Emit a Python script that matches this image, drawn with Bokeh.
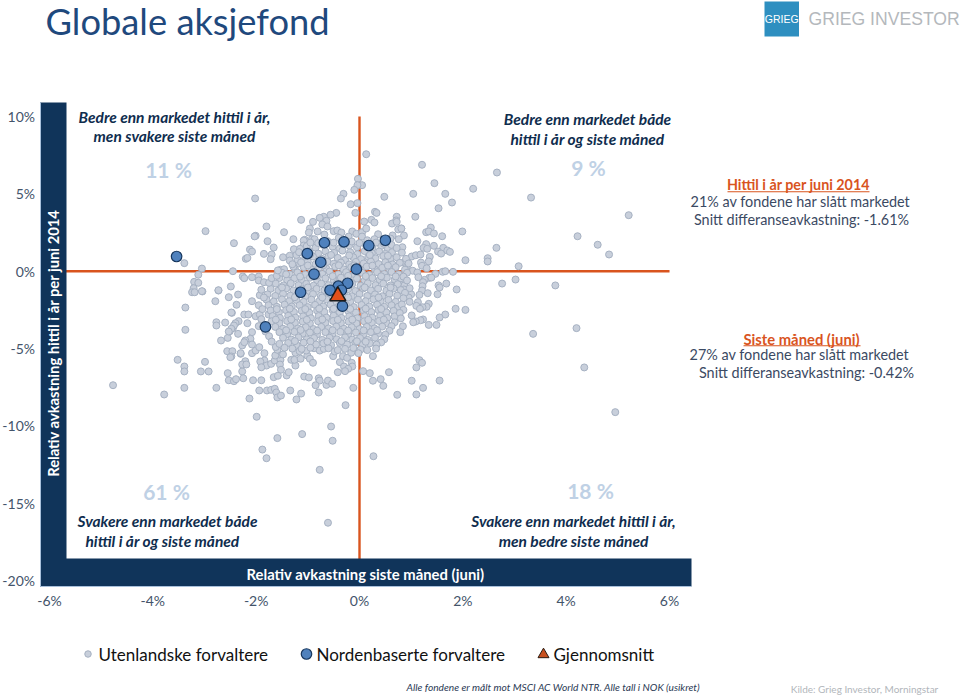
from bokeh.embed import file_html
from bokeh.models import FixedTicker, Label, LinearAxis
from bokeh.plotting import figure
from bokeh.resources import INLINE

x_ticks = [-6, -4, -2, 0, 2, 4, 6]
x_tick_labels = ["-6%", "-4%", "-2%", "0%", "2%", "4%", "6%"]
y_ticks = [-20, -15, -10, -5, 0, 5, 10]
y_tick_labels = ["-20%", "-15%", "-10%", "-5%", "0%", "5%", "10%"]

# (month %, ytd %) foreign managers, sparse outer points
foreign_outer = [
(1.21,6.88),(2.66,6.38),(1.45,5.69),(2.20,5.33),(1.04,5.00),(1.66,5.00),(3.32,4.76),(1.79,4.44),(1.53,4.07),(5.21,3.62),
(1.08,3.52),(1.38,2.82),(0.81,2.76),(1.29,2.52),(1.34,2.57),(1.44,2.44),(1.99,2.57),(0.86,2.31),(1.60,2.26),(4.22,2.26),
(1.12,1.94),(4.61,1.71),(1.29,1.75),(1.44,1.64),(1.24,1.51),(1.31,1.45),(0.83,1.55),(1.62,1.51),(2.65,1.51),(1.52,1.27),
(1.58,1.14),(1.70,1.34),(1.75,1.25),(4.83,1.08),(1.01,0.95),(1.09,1.03),(1.18,1.08),(1.36,0.93),(1.34,0.63),(2.05,0.71),
(2.48,0.84),(2.48,0.63),(1.19,0.56),(0.85,0.56),(1.21,0.35),(0.92,0.32),(1.30,0.19),(3.08,0.32),(1.03,0.03),(1.12,-0.08),
(1.61,-0.04),(1.66,0.0),(1.81,-0.04),(1.47,-0.17),(1.14,-0.39),(1.35,-0.43),(1.39,-0.41),(1.26,-0.56),(3.02,-0.54),(1.23,-0.71),
(0.86,-0.71),(2.76,-0.80),(3.79,-0.92),(1.68,-0.80),(1.53,-0.92),(1.55,-1.05),(1.22,-0.97),(0.87,-0.92),(0.86,-1.18),(1.88,-1.18),
(1.21,-1.25),(1.32,-1.42),(1.51,-1.49),(1.16,-1.53),(1.00,-1.49),(0.89,-1.57),(0.95,-1.70),(0.97,-1.98),(1.13,-2.00),(1.34,-2.11),
(1.10,-2.24),(1.30,-2.30),(1.22,-2.33),(1.17,-2.43),(1.86,-2.43),(2.05,-2.50),(1.66,-2.80),(1.01,-2.86),(1.55,-2.99),(1.23,-3.12),
(1.18,-3.17),(1.09,-3.25),(1.04,-3.30),(0.84,-3.56),(1.34,-3.47),(1.49,-3.47),(4.20,-3.68),(3.36,-4.05),(0.79,-3.94),(1.16,-5.75),
(1.21,-5.92),(1.10,-6.22),(4.35,-6.22),(1.01,-7.08),(1.55,-7.07),(1.23,-7.54),(1.10,-7.97),(4.95,-9.11),
(0.13,7.56),(-0.03,5.97),(0.05,5.56),(-0.04,5.56),(-0.10,5.26),(-0.31,5.00),(-0.36,4.70),(0.48,4.81),(-0.17,4.33),(-0.04,4.40),
(-0.08,3.77),(-0.45,3.77),(-0.56,3.65),(-0.69,3.52),(-0.77,3.45),(-0.64,3.26),(-0.90,3.19),(-1.13,3.32),(-0.72,3.02),(-0.62,2.89),
(-0.96,2.76),(-0.98,2.50),(-0.81,2.57),(-0.50,2.59),(-0.43,2.63),(-0.35,2.50),(-0.68,2.37),(-0.14,2.57),(-0.06,2.42),(0.05,2.52),
(0.13,2.76),(0.09,3.21),(0.23,3.32),(0.29,3.15),(0.30,3.84),(0.33,3.77),(0.72,3.52),(0.71,3.28),(0.63,3.08),(0.72,3.19),
(0.75,2.70),(0.81,2.76),(0.36,2.39),(0.64,2.31),(0.05,2.24),(-0.21,2.24),(-0.40,2.16),(-0.92,2.07),(-0.87,2.07),(-1.06,2.03),
(0.76,2.07),(0.60,2.11),(0.29,2.07),
(-2.02,4.70),(-2.98,2.59),(-1.80,2.89),(-1.46,2.52),(-2.43,1.81),(-2.01,2.29),(-2.03,2.25),(-1.78,1.94),(-1.28,2.07),(-1.66,1.53),
(-2.12,1.40),(-2.08,1.27),(-2.20,0.80),(-2.17,0.86),(-1.85,1.12),(-1.70,1.08),(-1.72,0.78),(-1.48,0.90),(-1.35,1.00),(-1.35,0.69),
(-1.27,1.42),(-1.08,1.98),(-1.08,1.66),(-3.05,0.17),(-2.45,0.0),(-1.53,0.09),(-1.46,0.13),(-1.14,0.52),(-2.26,-0.34),(-2.23,-0.45),
(-2.08,-0.39),(-1.95,-0.34),(-1.95,-0.60),(-1.85,-0.71),(-2.49,-0.99),(-2.73,-1.25),(-3.04,-1.31),(-2.35,-1.51),(-2.53,-1.68),(-1.93,-1.55),
(-2.79,-1.94),(-2.38,-2.17),(-2.08,-1.94),(-2.47,-2.69),(-2.23,-2.80),(-2.15,-2.80),(-2.01,-2.91),(-1.93,-2.80),(-1.76,-2.80),(-2.77,-3.30),
(-2.77,-3.51),(-2.60,-3.32),(-2.17,-3.36),(-2.34,-3.23),(-2.40,-3.36),(-2.45,-3.68),(-2.51,-3.88),(-2.35,-4.05),(-2.55,-4.31),(-2.68,-4.48),
(-2.08,-3.94),(-2.11,-4.37),(-2.21,-4.48),(-2.27,-4.80),(-2.23,-4.59),(-2.30,-5.34),(-2.56,-5.17),(-2.46,-5.17),(-2.48,-5.51),
(-3.39,0.52),(-3.12,-0.23),(-3.20,-0.69),(-3.12,-0.75),(-3.21,-1.10),(-3.24,-1.36),(-3.19,-1.36),(-3.05,-1.29),(-2.73,-1.23),(-3.37,-2.35),
(-4.77,-7.37),(-3.78,-7.97),(-3.39,-7.54),(-2.77,-7.54),(-3.52,-5.73),(-3.39,-6.16),(-3.39,-6.48),(-2.99,-5.86),(-3.07,-6.48),(-2.92,-6.48),
(-2.55,-6.59),(-2.27,-6.48),(-2.53,-7.05),(-2.43,-7.11),(-2.39,-6.98),(-2.25,-6.92),(-2.06,-7.05),(-1.90,-7.05),(-1.94,-7.71),(-1.79,-7.71),
(-1.71,-7.67),(-1.64,-7.60),(-1.61,-7.84),(-1.59,-8.16),(-1.52,-8.04),(-2.13,-8.23),(-1.34,-7.71),(-1.22,-8.29),(-1.13,-7.91),(-0.79,-7.84),
(-0.27,-8.66),(-0.12,-7.54),(-1.99,-9.41),(-1.59,-10.79),(-1.11,-10.53),(-0.55,-10.04),(-0.52,-10.96),(-1.88,-11.53),(-1.80,-12.09),(-0.77,-12.84),
(-0.61,-16.26),(0.27,-11.96),
(-3.37,-3.79),(-2.48,-2.67),(-2.43,-3.51),(-2.48,-3.72),(-2.53,-3.90),(-2.50,-5.56),(-2.30,-5.30),(-2.08,-5.30),(-2.01,-5.13),(-1.94,-4.91),
(-2.08,-4.74),(-1.84,-5.30),(-1.84,-5.77),(-1.92,-5.84),(-1.80,-6.10),(-1.90,-6.21),(-2.21,-5.82),(-2.27,-6.03),(-2.19,-6.03),(-1.71,-5.99),
(-1.64,-5.77),(-1.53,-5.73),(-1.54,-6.03),(-1.52,-6.37),(-1.55,-5.38),(-1.48,-5.38),(-1.63,-5.45),(-1.59,-5.08),(-1.32,-5.73),(-1.24,-6.10),
(-1.26,-5.73),(-1.14,-5.66),(-1.24,-5.27),(-1.16,-5.17),(-1.01,-5.45),(-0.96,-5.66),(-0.90,-5.92),(-1.03,-5.13),(-0.88,-4.98),(-0.77,-5.13),
(-0.69,-5.02),(-0.51,-5.49),(-0.48,-5.19),(-0.38,-5.88),(-0.32,-5.49),(-0.24,-5.60),(-0.16,-5.27),(-0.15,-5.92),(-0.30,-6.16),(-0.14,-6.16),
(-0.22,-6.31),(-0.28,-6.46),(-0.42,-6.53),(0.07,-6.46),(0.20,-6.59),(0.26,-5.49),(0.57,-6.53),(0.26,-7.08),(0.41,-6.98),(0.46,-7.41),
(0.73,-7.99),(-1.66,-6.85),(-1.58,-6.76),(-1.41,-6.74),(-1.37,-6.53),(-1.07,-6.81),(-0.98,-6.87),(-0.79,-6.92),(-0.77,-7.07),(-0.85,-7.37),
(-0.64,-7.35),(-0.61,-7.07),(-0.53,-7.28),
]

# dense middle of the cloud, estimated where the points run together
foreign_core = [
(-1.02,1.62),(-.85,1.52),(-.7,1.7),(-.52,1.58),(-.38,1.48),(-.2,1.66),(-.05,1.55),(.12,1.72),(.25,1.5),(.42,1.63),(.55,1.44),
(-1.1,1.2),(-.97,1.3),(-.8,1.14),(-.66,1.28),(-.49,1.18),(-.33,1.33),(-.18,1.22),(-.04,1.1),(.1,1.3),(.24,1.16),(.38,1.27),(.5,1.12),(.63,1.23),
(-1.05,.84),(-.9,.95),(-.73,.8),(-.6,.96),(-.42,.86),(-.28,.72),(-.12,.9),(.03,.78),(.17,.92),(.31,.83),(.46,.98),(.6,.8),(.72,.9),
(-1.18,.5),(-1.0,.62),(-.85,.46),(-.62,.6),(-.5,.48),(-.36,.56),(-.2,.44),(-.07,.6),(.08,.5),(.22,.62),(.37,.46),(.5,.58),(.64,.44),(.78,.54),
(-1.25,.14),(-1.08,.26),(-.93,.1),(-.78,.24),(-.64,.16),(-.47,.3),(-.31,.12),(-.16,.26),(0,.16),(.14,.3),(.3,.1),(.44,.22),(.58,.12),(.7,.26),
(-1.35,-.2),(-1.2,-.08),(-1.05,-.22),(-.88,-.1),(-.72,-.18),(-.58,-.02),(-.41,-.2),(-.26,-.06),(-.1,-.2),(.05,-.1),(.19,-.24),(.34,-.06),(.48,-.18),(.62,-.05),(.76,-.2),
(-1.55,-.44),(-1.4,-.58),(-1.26,-.46),(-1.12,-.56),(-.96,-.42),(-.82,-.6),(-.66,-.46),(-.5,-.56),(-.36,-.42),(-.2,-.58),(-.05,-.48),(.1,-.6),(.25,-.44),(.39,-.56),(.53,-.42),(.68,-.54),(.8,-.46),
(-1.62,-.8),(-1.47,-.92),(-1.33,-.78),(-1.18,-.9),(-1.03,-.82),(-.89,-.94),(-.74,-.8),(-.6,-.9),(-.44,-.78),(-.3,-.92),(-.14,-.82),(.02,-.94),(.16,-.78),(.31,-.9),(.46,-.8),(.6,-.92),(.74,-.84),
(-1.72,-1.14),(-1.57,-1.26),(-1.42,-1.12),(-1.28,-1.24),(-1.12,-1.16),(-.98,-1.28),(-.83,-1.14),(-.68,-1.24),(-.53,-1.12),(-.38,-1.26),(-.22,-1.16),(-.08,-1.28),(.07,-1.12),(.22,-1.24),(.36,-1.14),(.52,-1.26),(.66,-1.12),(.8,-1.22),
(-1.78,-1.5),(-1.63,-1.6),(-1.48,-1.46),(-1.34,-1.58),(-1.2,-1.5),(-1.05,-1.62),(-.9,-1.48),(-.75,-1.58),(-.6,-1.46),(-.46,-1.6),(-.3,-1.5),(-.15,-1.62),(0,-1.48),(.15,-1.6),(.3,-1.5),(.44,-1.62),(.58,-1.46),(.73,-1.58),
(-1.8,-1.84),(-1.66,-1.96),(-1.5,-1.82),(-1.36,-1.94),(-1.22,-1.86),(-1.08,-1.98),(-.93,-1.84),(-.78,-1.94),(-.64,-1.82),(-.48,-1.96),(-.34,-1.86),(-.18,-1.98),(-.03,-1.84),(.12,-1.94),(.27,-1.82),(.41,-1.96),(.56,-1.86),(.7,-1.98),
(-1.76,-2.2),(-1.6,-2.3),(-1.45,-2.16),(-1.31,-2.28),(-1.16,-2.2),(-1.0,-2.32),(-.86,-2.18),(-.7,-2.28),(-.56,-2.16),(-.41,-2.3),(-.26,-2.2),(-.11,-2.32),(.04,-2.18),(.19,-2.28),(.34,-2.16),(.48,-2.3),(.62,-2.2),(.75,-2.3),
(-1.72,-2.54),(-1.56,-2.66),(-1.42,-2.52),(-1.27,-2.64),(-1.12,-2.56),(-.97,-2.68),(-.82,-2.54),(-.68,-2.64),(-.52,-2.52),(-.38,-2.66),(-.22,-2.56),(-.07,-2.68),(.08,-2.54),(.23,-2.64),(.37,-2.52),(.52,-2.66),(.66,-2.56),
(-1.68,-2.9),(-1.54,-3.02),(-1.38,-2.88),(-1.24,-3.0),(-1.09,-2.92),(-.94,-3.04),(-.79,-2.9),(-.64,-3.0),(-.5,-2.88),(-.35,-3.02),(-.2,-2.92),(-.04,-3.04),(.1,-2.9),(.25,-3.0),(.4,-2.88),(.54,-3.02),(.68,-2.92),
(-1.7,-3.24),(-1.55,-3.36),(-1.4,-3.22),(-1.25,-3.34),(-1.1,-3.26),(-.96,-3.38),(-.8,-3.24),(-.66,-3.34),(-.51,-3.22),(-.36,-3.36),(-.21,-3.26),(-.06,-3.38),(.09,-3.24),(.24,-3.34),(.38,-3.22),(.52,-3.36),
(-1.63,-3.6),(-1.48,-3.72),(-1.34,-3.58),(-1.19,-3.7),(-1.04,-3.62),(-.89,-3.74),(-.74,-3.6),(-.6,-3.7),(-.45,-3.58),(-.3,-3.72),(-.15,-3.62),(0,-3.74),(.14,-3.6),(.29,-3.7),(.44,-3.58),
(-1.55,-3.94),(-1.4,-4.06),(-1.26,-3.92),(-1.1,-4.04),(-.96,-3.96),(-.82,-4.08),(-.66,-3.94),(-.52,-4.04),(-.37,-3.92),(-.22,-4.06),(-.07,-3.96),(.08,-4.08),(.22,-3.94),(.36,-4.04),
(-1.48,-4.3),(-1.32,-4.42),(-1.18,-4.28),(-1.02,-4.4),(-.88,-4.32),(-.72,-4.44),(-.58,-4.3),(-.44,-4.4),(-.28,-4.28),(-.14,-4.42),(.01,-4.32),(.16,-4.44),(.3,-4.3),
(-1.38,-4.64),(-1.22,-4.76),(-1.08,-4.62),(-.84,-4.74),(-.7,-4.66),(-.55,-4.78),(-.38,-4.64),(-.24,-4.74),(-.08,-4.62),(.06,-4.76),(.2,-4.66),
(-1.12,-5.02),(-.6,-4.98),(-.28,-5.02),(-.12,-4.96),(.02,-5.06),
(-1.5,-1.05),(-1.25,-1.68),(-1.0,-1.05),(-.72,-1.7),(-.5,-1.05),(-.22,-1.7),(.1,-1.05),(.37,-1.7),(.6,-1.05),
(-1.6,-2.45),(-1.35,-2.42),(-1.05,-2.45),(-.78,-2.42),(-.5,-2.43),(-.18,-2.44),(.12,-2.42),(.42,-2.44),
(-1.62,-3.13),(-1.32,-3.12),(-1.02,-3.14),(-.72,-3.12),(-.42,-3.14),(-.14,-3.13),(.17,-3.14),(.47,-3.13),
(-1.42,-3.82),(-1.14,-3.8),(-.82,-3.84),(-.52,-3.82),(-.22,-3.84),(.08,-3.83),(.34,-3.82),
(-1.25,-4.52),(-.95,-4.54),(-.62,-4.55),(-.35,-4.52),(-.05,-4.53),(.12,-4.56),
(-1.15,-.35),(-.82,-.3),(-.52,-.32),(-.22,-.3),(.12,-.32),(.42,-.33),(.7,-.34),
(-1.0,.37),(-.7,.38),(-.4,.38),(-.1,.37),(.25,.36),(.55,.36),
(-.95,1.1),(-.55,1.05),(-.2,1.02),(.2,1.05),(.55,1.0),
]

# rim of the dense part
foreign_rim = [
(-1.9,-1.2),(-1.85,-1.7),(-1.95,-2.2),(-1.88,-2.45),(-1.9,-3.1),(-1.85,-3.5),(-1.82,-3.9),(-1.95,-3.55),(-1.75,-4.2),(-1.7,-4.55),
(-1.62,-4.9),(-1.55,-4.7),(-1.45,-4.95),(-1.75,-0.75),(-1.7,-0.45),(-1.6,-.3),(-1.5,-.1),(-1.58,.05),(-1.42,-.2),(-1.28,.3),
(-1.2,.75),(-1.3,.45),(-1.22,1.05),(-1.15,1.45),(-1.17,1.23),(-1.13,.58),
(-.95,1.85),(-.8,1.82),(-.62,1.95),(-.5,1.85),(-.33,1.78),(-.15,1.92),(0,1.82),(.15,2.0),(.32,1.85),(.47,1.78),(.62,1.7),(.72,1.5),
(.82,1.2),(.9,.8),(.95,.5),(.88,.1),(.92,-.1),(.85,-.35),(.92,-.6),(.97,-1.1),(.88,-1.4),(.85,-1.75),(.82,-2.15),(.85,-2.5),
(.78,-2.7),(.8,-3.05),(.68,-3.3),(.62,-3.55),(.58,-3.85),(.5,-4.1),(.48,-4.4),(.42,-4.6),(.33,-4.75),(.32,-5.0),(.15,-5.1),
(-.02,-5.3),(-.42,-5.1),(-.95,-4.95),(-1.3,-5.0),
]

nordic_x = [-0.68, -0.30, 0.18, 0.50, -1.01, -0.75, -0.88, -0.06, -0.23, -0.41, -0.57, -0.35, -1.14, -0.33, -1.82, -3.54]
nordic_y = [1.84, 1.90, 1.66, 2.00, 1.14, 0.58, -0.19, 0.13, -0.78, -0.97, -1.23, -1.23, -1.36, -2.26, -3.60, 0.95]
average_x = [-0.42]
average_y = [-1.61]

legend_names = ["Utenlandske forvaltere", "Nordenbaserte forvaltere", "Gjennomsnitt"]

# page-pixel placement of the frame
PX0, PY0, SX, SY = 359.0, 270.7, 51.67, 15.47
X = lambda px: (px - PX0) / SX
Y = lambda py: (PY0 - py) / SY

NAVY = "#10345a"
ORANGE = "#d9541e"
TEXT = "#3b4a63"
QUAD = "#0f2d4e"
FONT = "Lato"

p = figure(width=960, height=695, output_backend="svg", toolbar_location=None,
           x_range=(X(0), X(960)), y_range=(Y(695), Y(0)),
           x_axis_type=None, y_axis_type=None, min_border=0)
p.outline_line_color = None
p.background_fill_color = "white"
p.xgrid.visible = False
p.ygrid.visible = False

# axes pinned to the frame of the chart
xa = LinearAxis(ticker=FixedTicker(ticks=x_ticks), fixed_location=Y(586), bounds=(X(39.5), X(691)),
                major_label_overrides=dict(zip(x_ticks, x_tick_labels)))
ya = LinearAxis(ticker=FixedTicker(ticks=y_ticks), fixed_location=X(39.5), bounds=(Y(586), Y(102)),
                major_label_overrides=dict(zip(y_ticks, y_tick_labels)))
for a, standoff in ((xa, -1), (ya, -1)):
    a.major_tick_line_color = None
    a.minor_tick_line_color = None
    a.axis_line_color = "#a9c1dc"
    a.axis_line_width = 1
    a.major_label_text_color = "#44546a"
    a.major_label_text_font = FONT
    a.major_label_text_font_size = "14px"
    a.major_label_standoff = standoff
p.add_layout(xa, "below")
p.add_layout(ya, "left")

# cross-hair at 0/0
p.line([x_ticks[0], x_ticks[-1]], [0, 0], line_color=ORANGE, line_width=2.4)
p.line([0, 0], [y_ticks[0], y_ticks[-1]], line_color=ORANGE, line_width=2.4)

GRAY = dict(fill_color="#c8cfdb", line_color="#a6b1c2", line_width=1, size=7)
BLUE = dict(fill_color="#4f81bd", line_color="#17375e", line_width=1.2, size=10.5)

all_foreign = foreign_outer + foreign_core + foreign_rim
p.scatter([a for a, _ in all_foreign], [b for _, b in all_foreign], **GRAY)
p.scatter(nordic_x, nordic_y, **BLUE)
p.scatter(average_x, average_y, marker="triangle", fill_color="#e2501b", line_color="#1a1a1a",
          line_width=1.5, size=16)

# navy side bars
p.quad(left=[X(39.5)], right=[X(66)], bottom=[Y(586)], top=[Y(102)], fill_color=NAVY, line_color=None)
p.quad(left=[X(39.5)], right=[X(691)], bottom=[Y(586)], top=[Y(558)], fill_color=NAVY, line_color=None)


def txt(s, px, py, size, color=TEXT, style="normal", align="center", font=FONT, angle=0):
    p.add_layout(Label(x=X(px), y=Y(py), text=s, text_font=font, text_font_size=f"{size}px",
                       text_color=color, text_font_style=style, text_align=align,
                       text_baseline="middle", angle=angle, angle_units="deg"))


txt("Globale aksjefond", 45, 20, 36.3, color="#1f497d", align="left")

bi = "bold italic"
txt("Bedre enn markedet hittil i år,", 174, 116, 15.5, QUAD, bi)
txt("men svakere siste måned", 174, 135.5, 15.5, QUAD, bi)
txt("Bedre enn markedet både", 587, 118, 15.5, QUAD, bi)
txt("hittil i år og siste måned", 587, 138, 15.5, QUAD, bi)
txt("Svakere enn markedet både", 167, 520, 15.5, QUAD, bi)
txt("hittil i år og siste måned", 162, 540, 15.5, QUAD, bi)
txt("Svakere enn markedet hittil i år,", 573, 520, 15.5, QUAD, bi)
txt("men bedre siste måned", 573, 540, 15.5, QUAD, bi)

for s, px, py in (("11 %", 168, 169), ("9 %", 588, 167), ("61 %", 166, 491), ("18 %", 590, 490)):
    txt(s, px, py, 21, "#bfd1e5", "bold")

txt("Relativ avkastning siste måned (juni)", 365, 573, 14.8, "white", "bold")
txt("Relativ avkastning hittil i år per juni 2014", 52.5, 342.5, 14.75, "white", "bold", angle=90)

# side notes
txt("Hittil i år per juni 2014", 798, 184, 14.3, ORANGE, "bold")
txt("21% av fondene har slått markedet", 800, 201, 14.4, TEXT)
txt("Snitt differanseavkastning: -1.61%", 801, 219, 14.4, TEXT)
txt("Siste måned (juni)", 801, 338, 14.8, ORANGE, "bold")
txt("27% av fondene har slått markedet", 799, 354, 14.4, TEXT)
txt("Snitt differanseavkastning: -0.42%", 806, 372, 14.4, TEXT)
p.quad(left=[X(727), X(743)], right=[X(869), X(860)], bottom=[Y(191.8), Y(345.8)], top=[Y(190.8), Y(344.8)],
       fill_color=ORANGE, line_color=None)

# logo
p.quad(left=[X(764)], right=[X(798.5)], bottom=[Y(36)], top=[Y(1)], fill_color="#2e8fc0", line_color=None)
txt("GRIEG", 781.2, 18.5, 10.5, "white", "normal", font="Liberation Sans")
txt("GRIEG INVESTOR", 808, 18, 17.6, "#b4b8bc", align="left", font="Liberation Sans")

# legend row
p.scatter([X(87.5)], [Y(653.5)], fill_color="#c8cfdb", line_color="#a6b1c2", line_width=1, size=6.5)
p.scatter([X(306)], [Y(653.5)], **BLUE)
p.scatter([X(543)], [Y(654)], marker="triangle", fill_color="#c8501f", line_color="#2a1a10", line_width=1, size=11)
txt(legend_names[0], 98, 654, 17, "#111111", align="left")
txt(legend_names[1], 316, 654, 17, "#111111", align="left")
txt(legend_names[2], 553, 654, 17, "#111111", align="left")

# footers
txt("Alle fondene er målt mot MSCI AC World NTR. Alle tall i NOK (usikret)", 406, 686, 10.2, "#2b3a55", "italic", align="left")
txt("Kilde: Grieg Investor, Morningstar", 864, 688, 10, "#b2b6bb")

open("out.html", "w").write(file_html(p, INLINE))
